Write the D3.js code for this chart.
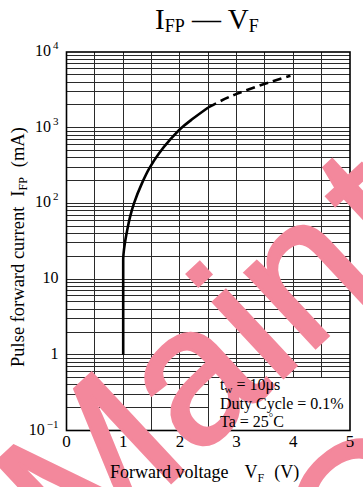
<!DOCTYPE html>
<html>
<head>
<meta charset="utf-8">
<script src="https://cdn.jsdelivr.net/npm/d3@7"></script>
<style>
  body { margin: 0; background: #fff; }
  svg { display: block; }
  text { font-family: "Liberation Serif", "Times New Roman", serif; fill: #000; }
  text.mark { font-family: "Liberation Sans", Arial, sans-serif; fill: #f3889c; }
</style>
</head>
<body>
<svg id="chart" width="363" height="487"></svg>
<script>
// Axis ticks
const voltageTicks = [0, 1, 2, 3, 4, 5];
const currentTicks = [0.1, 1, 10, 100, 1000, 10000];
const currentTickBase = ["10", "1", "10", "10", "10", "10"];
const currentTickExp = ["\u22121", "", "", "2", "3", "4"];

// Measured pulse forward current (solid part)
const measuredV = [1.0, 1.0, 1.0, 1.03, 1.07, 1.12, 1.19, 1.33, 1.46, 1.63, 1.82, 2.03, 2.22, 2.5];
const measuredI = [1, 10, 18, 30, 44, 66, 100, 184, 290, 457, 684, 1000, 1300, 1850];

// Extrapolated part (dashed)
const extrapV = [2.5, 3.0, 3.5, 3.95];
const extrapI = [1850, 2800, 3800, 4850];

const svg = d3.select("#chart");

const x = d3.scaleLinear().domain([0, 5]).range([66.5, 350]);
const y = d3.scaleLog().domain([0.1, 10000]).range([430.5, 52]);

// Conditions box occupies 2.5–5 V, 0.1–0.5 mA
const boxV = 2.5, boxI = 0.5;

// ---- grid ----
const grid = svg.append("g")
  .attr("stroke", "#2a2a2a")
  .attr("stroke-width", 1)
  .attr("shape-rendering", "crispEdges");

const hLines = [];
for (let k = -1; k <= 3; k++) {
  for (let m = 1; m <= 9; m++) {
    if (k === -1 && m === 1) continue;
    hLines.push(m * Math.pow(10, k));
  }
}
grid.selectAll("line.h").data(hLines).join("line")
  .attr("class", "h")
  .attr("x1", x(0))
  .attr("x2", d => d < boxI - 1e-9 ? x(boxV) : x(5))
  .attr("y1", d => y(d)).attr("y2", d => y(d));

const vLines = d3.range(0.5, 5, 0.5);
grid.selectAll("line.v").data(vLines).join("line")
  .attr("class", "v")
  .attr("x1", d => x(d)).attr("x2", d => x(d))
  .attr("y1", y(10000))
  .attr("y2", d => d > boxV + 1e-9 ? y(boxI) : y(0.1));

// frame
svg.append("rect")
  .attr("x", x(0)).attr("y", y(10000))
  .attr("width", x(5) - x(0)).attr("height", y(0.1) - y(10000))
  .attr("fill", "none").attr("stroke", "#000").attr("stroke-width", 1.6);

// ---- watermark ----
const mark = svg.append("g")
  .attr("font-size", 195)
  .attr("stroke", "#f3889c")
  .attr("stroke-width", 3);
const word = mark.append("text")
  .attr("class", "mark")
  .attr("transform", "translate(76,571) rotate(-43)");
word.append("tspan").text("Main");
word.append("tspan").attr("dx", 13).text("t");
mark.append("text")
  .attr("class", "mark")
  .attr("transform", "translate(357,610) rotate(-43)")
  .text("C");

// ---- curve ----
const line = d3.line()
  .x(d => x(d[0]))
  .y(d => y(d[1]))
  .curve(d3.curveMonotoneY);

svg.append("path")
  .datum(d3.zip(measuredV, measuredI))
  .attr("d", line)
  .attr("fill", "none")
  .attr("stroke", "#000")
  .attr("stroke-width", 2.6);

svg.append("path")
  .datum(d3.zip(extrapV, extrapI))
  .attr("d", line)
  .attr("fill", "none")
  .attr("stroke", "#000")
  .attr("stroke-width", 2.6)
  .attr("stroke-dasharray", "9,5");

// ---- tick labels ----
svg.selectAll("text.xt").data(voltageTicks).join("text")
  .attr("class", "xt")
  .attr("x", d => x(d))
  .attr("y", 447)
  .attr("text-anchor", "middle")
  .attr("font-size", 17)
  .text(d => d);

const yLab = svg.selectAll("text.yt").data(currentTicks).join("text")
  .attr("class", "yt")
  .attr("x", 58.5)
  .attr("y", d => y(d) + 4)
  .attr("text-anchor", "end")
  .attr("font-size", 16);
yLab.append("tspan").text((d, i) => currentTickBase[i]);
yLab.filter((d, i) => currentTickExp[i] !== "")
  .append("tspan")
  .attr("dx", 2)
  .attr("dy", -7)
  .attr("font-size", 11)
  .text(d => currentTickExp[currentTicks.indexOf(d)]);

// ---- title ----
const title = svg.append("text").attr("x", 155).attr("y", 28.5).attr("font-size", 29);
title.append("tspan").text("I");
title.append("tspan").attr("font-size", 18).attr("dy", 3.5).text("FP");
title.append("tspan").attr("dy", -3.5).text(" \u2014 V");
title.append("tspan").attr("font-size", 18).attr("dy", 3.5).text("F");

// ---- axis titles ----
const xt = svg.append("text").attr("x", 110).attr("y", 478).attr("font-size", 18);
xt.append("tspan").text("Forward voltage");
xt.append("tspan").attr("dx", 16).text("V");
xt.append("tspan").attr("font-size", 12).attr("dy", 4).text("F");
xt.append("tspan").attr("dy", -4).attr("dx", 10).text("(V)");

const yt = svg.append("text")
  .attr("transform", "translate(23.5,367) rotate(-90)")
  .attr("font-size", 18.5);
yt.append("tspan").text("Pulse forward current");
yt.append("tspan").attr("dx", 10).text("I");
yt.append("tspan").attr("font-size", 12).attr("dy", 3).text("FP");
yt.append("tspan").attr("dy", -3).attr("dx", 10).text("(mA)");

// ---- measurement conditions ----
const cond = svg.append("g").attr("font-size", 16);
const c1 = cond.append("text").attr("x", 220).attr("y", 390);
c1.append("tspan").text("t");
c1.append("tspan").attr("font-size", 11).attr("dy", 3).text("w");
c1.append("tspan").attr("dy", -3).text(" = 10\u03bcs");
cond.append("text").attr("x", 220).attr("y", 409).text("Duty Cycle = 0.1%");
const c3 = cond.append("text").attr("x", 220).attr("y", 427);
c3.append("tspan").text("Ta = 25");
c3.append("tspan").attr("font-size", 11).attr("dy", -6).text("\u00b0");
c3.append("tspan").attr("dy", 6).text("C");
</script>
</body>
</html>
